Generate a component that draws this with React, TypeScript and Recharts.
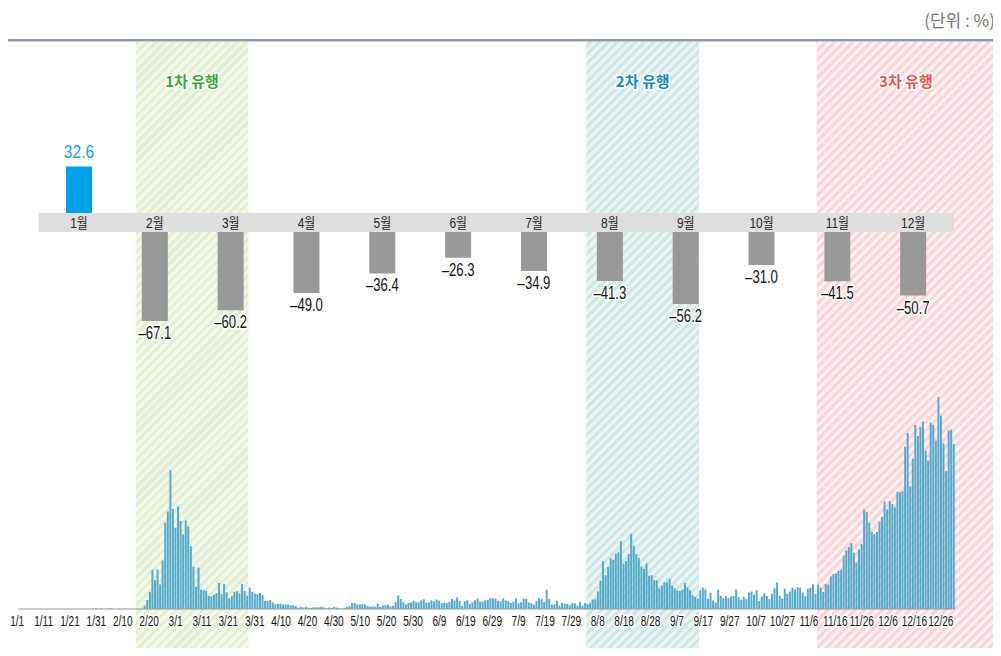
import { Bar, BarChart, LabelList, ReferenceArea, XAxis, YAxis, Cell } from "recharts";

// 전년 동월 대비 증감률 (%)
const MONTHS = ["1월", "2월", "3월", "4월", "5월", "6월", "7월", "8월", "9월", "10월", "11월", "12월"];
const MONTHLY_CHANGE = [32.6, -67.1, -60.2, -49.0, -36.4, -26.3, -34.9, -41.3, -56.2, -31.0, -41.5, -50.7];

// 일별 신규 확진자 수 (2020)
const JAN = [0, 0, 0, 0, 0, 0, 0, 0, 0, 0, 0, 0, 0, 0, 0, 0, 0, 0, 0, 1, 0, 0, 0, 1, 0, 1, 1, 0, 0, 2, 4];
const FEB = [1, 3, 0, 1, 3, 4, 0, 0, 3, 0, 1, 0, 0, 0, 0, 1, 1, 1, 20, 53, 100, 229, 169, 231, 144, 284, 505, 571, 813];
const MAR = [586, 476, 600, 516, 438, 518, 483, 367, 248, 131, 242, 114, 110, 107, 76, 74, 84, 93, 152, 87, 147, 98, 64, 76, 100, 104, 91, 146, 105, 78, 125];
const APR = [101, 89, 86, 94, 81, 47, 47, 53, 39, 27, 30, 32, 25, 27, 27, 22, 22, 18, 8, 13, 9, 11, 8, 6, 10, 10, 10, 14, 9, 4];
const MAY = [9, 6, 13, 8, 3, 2, 4, 12, 18, 34, 35, 27, 26, 29, 27, 19, 13, 15, 13, 32, 12, 20, 23, 25, 16, 19, 40, 79, 58, 39, 27];
const JUN = [35, 38, 49, 39, 39, 51, 57, 38, 38, 50, 45, 56, 49, 34, 37, 34, 43, 59, 49, 67, 48, 17, 46, 51, 28, 39, 51, 62, 42, 43];
const JUL = [51, 54, 63, 63, 61, 48, 44, 62, 50, 45, 35, 44, 62, 33, 39, 61, 60, 39, 34, 26, 45, 63, 59, 41, 113, 58, 25, 28, 48, 18, 36];
const AUG = [31, 30, 23, 34, 33, 20, 43, 20, 36, 28, 34, 54, 56, 103, 166, 279, 197, 246, 297, 288, 324, 332, 397, 266, 280, 320, 441, 371, 323, 299, 248];
const SEP = [235, 267, 195, 198, 168, 167, 119, 136, 156, 155, 176, 136, 121, 109, 106, 113, 153, 126, 110, 82, 70, 61, 110, 125, 114, 61, 95, 50, 38, 113];
const OCT = [77, 63, 75, 64, 73, 75, 114, 69, 54, 72, 58, 97, 102, 84, 110, 47, 73, 91, 76, 58, 89, 121, 155, 77, 61, 119, 88, 103, 125, 114, 127];
const NOV = [124, 97, 75, 118, 125, 145, 89, 143, 126, 100, 146, 143, 191, 205, 208, 223, 230, 313, 343, 363, 386, 330, 271, 349, 382, 583, 569, 504, 450, 438];
const DEC = [451, 511, 540, 629, 583, 631, 615, 594, 686, 682, 689, 950, 1030, 718, 880, 1078, 1014, 1064, 1097, 926, 869, 1092, 1078, 985, 1241, 1132, 970, 807, 1045, 1050, 967];
const DAILY_BY_MONTH = [JAN, FEB, MAR, APR, MAY, JUN, JUL, AUG, SEP, OCT, NOV, DEC];

const TICK_LABELS = [
  "1/1", "1/11", "1/21", "1/31", "2/10", "2/20", "3/1", "3/11", "3/21", "3/31", "4/10", "4/20",
  "4/30", "5/10", "5/20", "5/30", "6/9", "6/19", "6/29", "7/9", "7/19", "7/29", "8/8", "8/18",
  "8/28", "9/7", "9/17", "9/27", "10/7", "10/27", "11/6", "11/16", "11/26", "12/6", "12/16", "12/26",
];

const WAVE_NAMES = ["1차 유행", "2차 유행", "3차 유행"];
const WAVE_STARTS = ["2/16", "8/10", "11/8"];
const WAVE_ENDS = ["3/30", "9/22", "12/31"];

const WAVE_STYLES = [
  { id: "hatch-green", bg: "#f3f8ea", stripe: "#e2eed2", text: "#3ba536", extend: 0 },
  { id: "hatch-teal", bg: "#e9f4f3", stripe: "#cde6e4", text: "#1589c0", extend: 0 },
  { id: "hatch-red", bg: "#fdf1f2", stripe: "#fbd3d8", text: "#f0514f", extend: 40 },
];

const SANS = "'Liberation Sans', 'Noto Sans CJK KR', sans-serif";
const KR = "'Noto Sans CJK KR', sans-serif";

const W = 1001;
const Y_MAX = 3319;
const Y_BELOW = -275;

const MONTH_MARGIN = { top: 30, right: 50, bottom: 20, left: 41 };
const MONTH_STEP = (W - MONTH_MARGIN.left - MONTH_MARGIN.right) / MONTHS.length;

const daily = DAILY_BY_MONTH.flatMap((month, m) =>
  month.map((cases, d) => ({ day: `${m + 1}/${d + 1}`, cases }))
);

const monthly = MONTHS.map((month, i) => ({ month, value: MONTHLY_CHANGE[i] }));
const tickRow = TICK_LABELS.map((label) => ({ label }));

// condensed text: Liberation Sans squeezed horizontally
function NarrowText({ x, y, size, fill, halo, squeeze = 0.8, weight, children }: any) {
  return (
    <text
      transform={`translate(${x},${y}) scale(${squeeze},1)`}
      textAnchor="middle"
      fontSize={size}
      fontWeight={weight}
      fill={fill}
      stroke={halo ? "#fff" : "none"}
      strokeWidth={halo ? 3 : 0}
      strokeLinejoin="round"
      paintOrder="stroke"
      fontFamily={SANS}
    >
      {children}
    </text>
  );
}

function barEnds(props: any, value: number) {
  const vb = props.viewBox ?? props;
  const a = vb.y;
  const b = vb.y + vb.height;
  const top = Math.min(a, b);
  const bottom = Math.max(a, b);
  return value < 0 ? { zero: top, far: bottom, cx: vb.x + vb.width / 2 } : { zero: bottom, far: top, cx: vb.x + vb.width / 2 };
}

function ValueLabel(props: any) {
  const v = MONTHLY_CHANGE[props.index];
  const { far, cx } = barEnds(props, v);
  if (v > 0) {
    return (
      <NarrowText x={cx} y={far - 8} size={19} fill="#1ba1e2" squeeze={0.82}>
        {v.toFixed(1)}
      </NarrowText>
    );
  }
  return (
    <NarrowText x={cx} y={far + 18} size={17.5} fill="#111" halo squeeze={0.75}>
      {"–" + Math.abs(v).toFixed(1)}
    </NarrowText>
  );
}

// gray band over the zero line, with the month name in it
function MonthLabel(props: any) {
  const v = MONTHLY_CHANGE[props.index];
  const { zero, cx } = barEnds(props, v);
  const first = props.index === 0;
  const last = props.index === MONTHS.length - 1;
  const left = cx - MONTH_STEP / 2 - (first ? 2.5 : 0.5);
  const right = cx + MONTH_STEP / 2 + (last ? 3 : 0.5);
  return (
    <g>
      <rect x={left} y={zero - 4} width={right - left} height={19} fill="#dedede" />
      <NarrowText x={cx} y={zero + 11} size={14} fill="#222" squeeze={0.85}>
        {props.value}
      </NarrowText>
    </g>
  );
}

function DateTick(props: any) {
  const { x, y, payload } = props;
  return (
    <NarrowText x={x} y={y + 15} size={14} fill="#111" halo squeeze={0.72}>
      {payload.value}
    </NarrowText>
  );
}

function WaveShape(props: any, i: number) {
  const s = WAVE_STYLES[i];
  const width = props.width + s.extend;
  return (
    <g>
      <rect x={props.x} y={props.y} width={width} height={props.height} fill={`url(#${s.id})`} />
      <text
        x={props.x + width / 2}
        y={props.y + 45}
        textAnchor="middle"
        fontSize={15}
        fontWeight={700}
        fill={s.text}
        stroke="#fff"
        strokeWidth={3}
        paintOrder="stroke"
        fontFamily={KR}
      >
        {WAVE_NAMES[i]}
      </text>
    </g>
  );
}

export default function App() {
  return (
    <div style={{ position: "relative", width: W, height: 656, margin: -8, overflow: "hidden", background: "#fff" }}>
      <div
        style={{
          position: "absolute",
          right: 6,
          top: 7,
          fontSize: 17,
          lineHeight: "26px",
          color: "#777",
          fontFamily: KR,
        }}
      >
        (단위 : %)
      </div>
      <div style={{ position: "absolute", left: 8, top: 39, width: W - 8, height: 2, background: "#8c97a3" }} />
      <div style={{ position: "absolute", left: 8, top: 41, width: W - 8, height: 1, background: "#cdd3d9" }} />

      {/* daily new cases, with the three waves hatched behind */}
      <div style={{ position: "absolute", left: 0, top: 42 }}>
        <BarChart
          width={W}
          height={614}
          data={daily}
          margin={{ top: 0, right: 46, bottom: 0, left: 18 }}
          barCategoryGap="12%"
        >
          <defs>
            {WAVE_STYLES.map((s) => (
              <pattern
                key={s.id}
                id={s.id}
                patternUnits="userSpaceOnUse"
                width={6.4}
                height={6.4}
                patternTransform="rotate(45)"
              >
                <rect width={6.4} height={6.4} fill={s.bg} />
                <rect width={3} height={6.4} fill={s.stripe} />
              </pattern>
            ))}
          </defs>
          <XAxis dataKey="day" height={47} tick={false} tickLine={false} axisLine={{ stroke: "#9a9a9a" }} />
          <YAxis hide domain={[0, Y_MAX]} />
          {WAVE_NAMES.map((name, i) => (
            <ReferenceArea
              key={name}
              x1={WAVE_STARTS[i]}
              x2={WAVE_ENDS[i]}
              y1={Y_BELOW}
              y2={Y_MAX}
              ifOverflow="visible"
              shape={(p: any) => WaveShape(p, i)}
            />
          ))}
          <Bar dataKey="cases" fill="#55aac9" isAnimationActive={false} />
        </BarChart>
      </div>

      {/* date labels, evenly spaced under the daily bars */}
      <div style={{ position: "absolute", left: 0, top: 608 }}>
        <BarChart width={W} height={40} data={tickRow} margin={{ top: 0, right: 47, bottom: 0, left: 4 }}>
          <XAxis
            dataKey="label"
            interval={0}
            height={39}
            tickSize={0}
            axisLine={false}
            tickLine={false}
            tick={(p: any) => <DateTick {...p} />}
          />
          <YAxis hide />
        </BarChart>
      </div>

      {/* monthly change vs. previous year */}
      <div style={{ position: "absolute", left: 0, top: 125 }}>
        <BarChart width={W} height={236} data={monthly} margin={MONTH_MARGIN}>
          <XAxis dataKey="month" hide />
          <YAxis hide domain={[-80, 40]} />
          <Bar dataKey="value" barSize={26} isAnimationActive={false}>
            {monthly.map((d) => (
              <Cell key={d.month} fill={d.value > 0 ? "#00a0e9" : "#999999"} />
            ))}
            <LabelList dataKey="month" content={MonthLabel} />
            <LabelList dataKey="value" content={ValueLabel} />
          </Bar>
        </BarChart>
      </div>
    </div>
  );
}
